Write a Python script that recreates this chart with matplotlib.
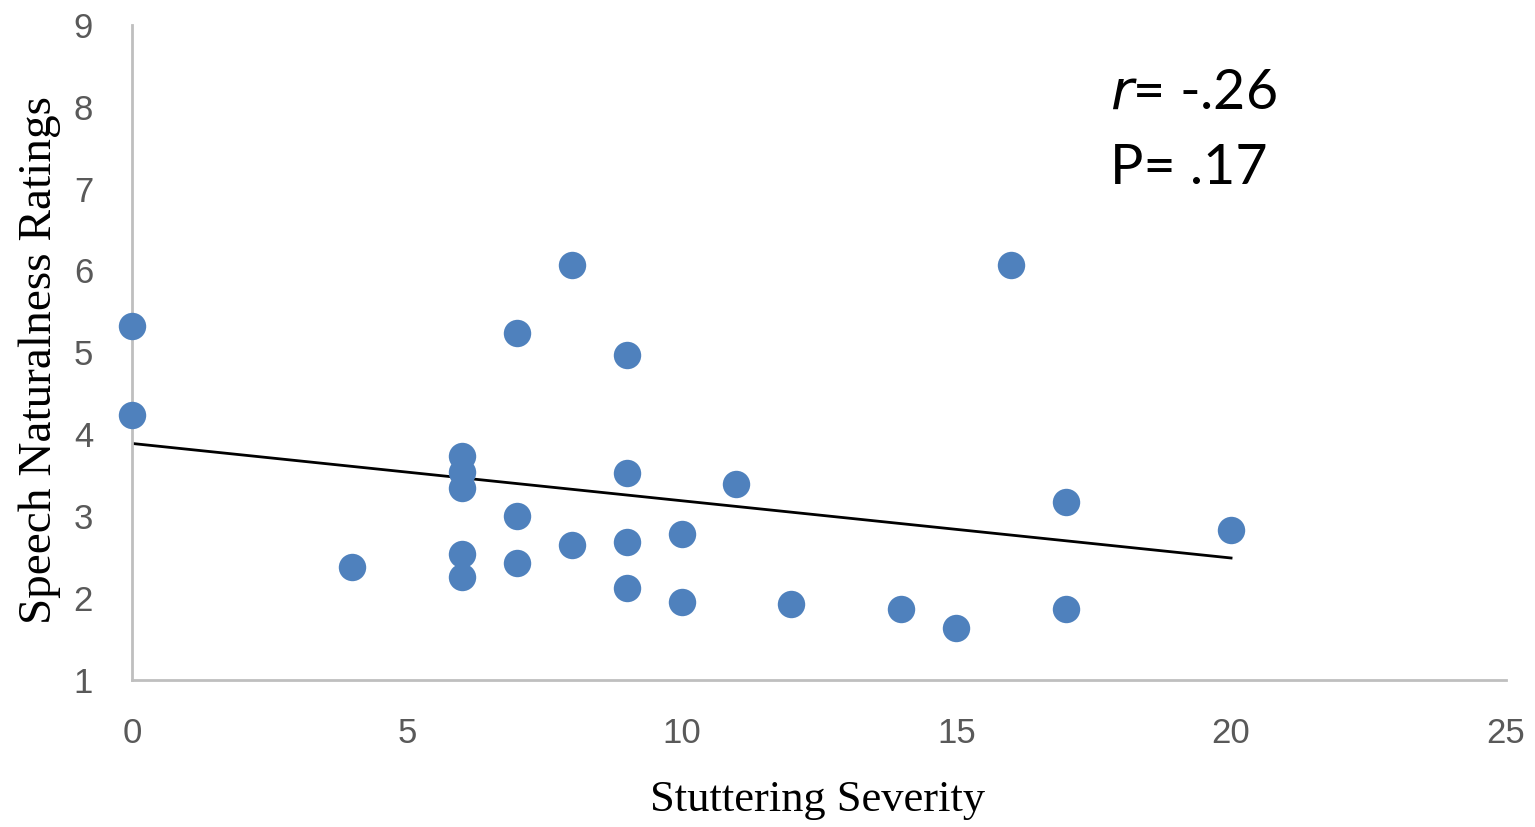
import numpy as np
import matplotlib
matplotlib.use("Agg")
import matplotlib.pyplot as plt

# Stuttering severity vs. speech naturalness ratings
severity = [0, 0, 4, 6, 6, 6, 6, 6, 7, 7, 7, 8, 8, 9, 9, 9, 9,
            10, 10, 11, 12, 14, 15, 16, 17, 17, 20]
naturalness = [5.32, 4.24, 2.38, 3.73, 3.54, 3.34, 2.54, 2.25, 5.24, 3.00, 2.43,
               6.07, 2.65, 4.97, 3.53, 2.68, 2.12, 2.78, 1.95, 3.39, 1.93,
               1.87, 1.63, 6.07, 3.17, 1.87, 2.83]
x_ticks = [0, 5, 10, 15, 20, 25]
y_ticks = [1, 2, 3, 4, 5, 6, 7, 8, 9]

fig = plt.figure(figsize=(15.35, 8.27), dpi=100)
ax = fig.add_axes([0.086, 0.178, 0.895, 0.792])

ax.scatter(severity, naturalness, s=390, color="#4F81BD", zorder=3,
           linewidths=0, clip_on=False)

# linear trend line over the data range
slope, intercept = np.polyfit(severity, naturalness, 1)
xs = np.array([min(severity), max(severity)])
ax.plot(xs, slope * xs + intercept, color="black", lw=2, zorder=2)

ax.set_xlim(0, 25)
ax.set_ylim(1, 9)
ax.set_xticks(x_ticks)
ax.set_yticks(y_ticks)
ax.tick_params(length=0, labelsize=25, labelcolor="#595959")
ax.tick_params(axis="x", pad=27)
ax.tick_params(axis="y", pad=28)
for lab in ax.get_xticklabels() + ax.get_yticklabels():
    lab.set_family(["Liberation Sans", "DejaVu Sans"])

for side in ["top", "right"]:
    ax.spines[side].set_visible(False)
for side in ["left", "bottom"]:
    ax.spines[side].set_color("#BFBFBF")
    ax.spines[side].set_linewidth(2)

fig.text(818 / 1535, 1 - 800 / 827, "Stuttering Severity", family="Liberation Serif",
         fontsize=32, ha="center", va="center")
fig.text(40 / 1535, 1 - 360 / 827, "Speech Naturalness Ratings", family="Liberation Serif",
         fontsize=34, ha="center", va="center", rotation=90)

ax.text(0.712, 0.872, r"$\it{r}$= -.26", transform=ax.transAxes, fontsize=40,
        family="Lato", ha="left", va="baseline")
ax.text(0.712, 0.757, "P= .17", transform=ax.transAxes, fontsize=40,
        family="Lato", ha="left", va="baseline")

fig.savefig("out.png", dpi=100)
